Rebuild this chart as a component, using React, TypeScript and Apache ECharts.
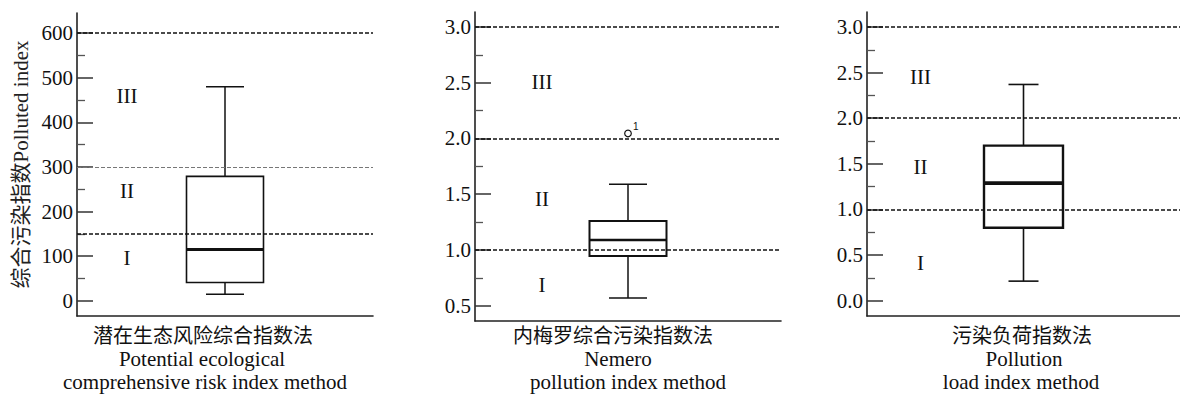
import React, { useEffect, useRef } from 'react';
import * as echarts from 'echarts';

// ---------- DATA ----------
const methodNamesZh = ['潜在生态风险综合指数法', '内梅罗综合污染指数法', '污染负荷指数法'];
const methodNamesEn1 = ['Potential ecological', 'Nemero', 'Pollution'];
const methodNamesEn2 = ['comprehensive risk index method', 'pollution index method', 'load index method'];
const yAxisTitle = '综合污染指数Polluted index';

// box statistics: [min, Q1, median, Q3, max]
const boxPotential = [15, 41, 115, 279, 480];
const boxNemero = [0.57, 0.945, 1.09, 1.26, 1.59];
const boxLoad = [0.215, 0.8, 1.29, 1.7, 2.37];

const outlierNemero = [2.045];
const outlierNemeroLabel = ['1'];

const thresholdsPotential = [150, 300, 600];
const thresholdsNemero = [1, 2, 3];
const thresholdsLoad = [1, 2, 3];

const gradeLabels = ['I', 'II', 'III'];
const gradeYPotential = [95, 245, 460];
const gradeYNemero = [0.69, 1.46, 2.51];
const gradeYLoad = [0.41, 1.47, 2.45];

const majorTicksPotential = [0, 100, 200, 300, 400, 500, 600];
const minorTicksPotential = [50, 150, 250, 350, 450, 550];
const majorTicksNemero = [0.5, 1.0, 1.5, 2.0, 2.5, 3.0];
const minorTicksNemero = [0.75, 1.25, 1.75, 2.25, 2.75];
const majorTicksLoad = [0, 0.5, 1.0, 1.5, 2.0, 2.5, 3.0];
const minorTicksLoad = [0.25, 0.75, 1.25, 1.75, 2.25, 2.75];

const yRangePotential = [-34, 645];
const yRangeNemero = [0.363, 3.134];
const yRangeLoad = [-0.167, 3.164];

// ---------- LAYOUT / STYLE ----------
const FONT = "'Liberation Serif', 'Noto Sans CJK SC', serif";
const INK = '#111';

const panels = [
  {
    box: boxPotential, thresholds: thresholdsPotential, thin: [false, true, false],
    gradeY: gradeYPotential, major: majorTicksPotential, minor: minorTicksPotential,
    range: yRangePotential, decimals: 0,
    grid: { left: 77, top: 13, width: 296, height: 303 },
    boxWidth: 77, capWidth: 38, boxLine: 1.6, medianLine: 3, whiskerLine: 1.5,
    gradeDx: -98, textX: [203, 202, 205],
  },
  {
    box: boxNemero, thresholds: thresholdsNemero, thin: [false, false, false],
    gradeY: gradeYNemero, major: majorTicksNemero, minor: minorTicksNemero,
    range: yRangeNemero, decimals: 1,
    grid: { left: 475, top: 12, width: 306, height: 309 },
    boxWidth: 77, capWidth: 38, boxLine: 2, medianLine: 2.6, whiskerLine: 1.5,
    gradeDx: -86, textX: [613, 618, 628],
  },
  {
    box: boxLoad, thresholds: thresholdsLoad, thin: [false, false, false],
    gradeY: gradeYLoad, major: majorTicksLoad, minor: minorTicksLoad,
    range: yRangeLoad, decimals: 1,
    grid: { left: 867, top: 12, width: 313, height: 304 },
    boxWidth: 79, capWidth: 30, boxLine: 2.4, medianLine: 3.8, whiskerLine: 1.6,
    gradeDx: -103, textX: [1022, 1024, 1021],
  },
];

function makeBoxRender(p: any) {
  return (params: any, api: any) => {
    const cat = api.value(0);
    const pts = [1, 2, 3, 4, 5].map((i) => api.coord([cat, api.value(i)]));
    const cx = pts[0][0];
    const hw = p.boxWidth / 2;
    const hc = p.capWidth / 2;
    const ln = (x1: number, y1: number, x2: number, y2: number, w: number) => ({
      type: 'line',
      shape: { x1, y1, x2, y2 },
      style: { stroke: INK, lineWidth: w, fill: 'none' },
    });
    return {
      type: 'group',
      children: [
        ln(cx, pts[4][1], cx, pts[3][1], p.whiskerLine),
        ln(cx, pts[0][1], cx, pts[1][1], p.whiskerLine),
        ln(cx - hc, pts[4][1], cx + hc, pts[4][1], p.whiskerLine),
        ln(cx - hc, pts[0][1], cx + hc, pts[0][1], p.whiskerLine),
        {
          type: 'rect',
          shape: { x: cx - hw, y: pts[3][1], width: hw * 2, height: pts[1][1] - pts[3][1] },
          style: { stroke: INK, lineWidth: p.boxLine, fill: 'none' },
        },
        ln(cx - hw, pts[2][1], cx + hw, pts[2][1], p.medianLine),
      ],
    };
  };
}

function makeGradeRender(p: any) {
  return (params: any, api: any) => {
    const c = api.coord([api.value(0), api.value(1)]);
    return {
      type: 'text',
      x: c[0] + p.gradeDx,
      y: c[1],
      style: {
        text: gradeLabels[params.dataIndex],
        fontFamily: FONT,
        fontSize: 21,
        fill: INK,
        align: 'center',
        verticalAlign: 'middle',
        textAlign: 'center',
        textVerticalAlign: 'middle',
      },
    };
  };
}

function makeOutlierRender() {
  return (params: any, api: any) => {
    const c = api.coord([api.value(0), api.value(1)]);
    return {
      type: 'group',
      children: [
        {
          type: 'circle',
          shape: { cx: c[0], cy: c[1], r: 3.3 },
          style: { stroke: INK, lineWidth: 1.2, fill: '#fff' },
        },
        {
          type: 'text',
          x: c[0] + 5,
          y: c[1] - 7,
          style: {
            text: outlierNemeroLabel[params.dataIndex],
            fontFamily: "'Liberation Sans', Arial, sans-serif",
            fontSize: 10,
            fill: INK,
            align: 'left',
            verticalAlign: 'middle',
            textAlign: 'left',
            textVerticalAlign: 'middle',
          },
        },
      ],
    };
  };
}

function buildOption() {
  const grid: any[] = [];
  const xAxis: any[] = [];
  const yAxis: any[] = [];
  const series: any[] = [];
  const graphic: any[] = [];

  panels.forEach((p, i) => {
    grid.push({ ...p.grid, containLabel: false });
    xAxis.push({
      type: 'category',
      gridIndex: i,
      data: [methodNamesZh[i]],
      boundaryGap: true,
      axisLine: { show: true, onZero: false, lineStyle: { color: '#222', width: 1.6 } },
      axisTick: { show: false },
      axisLabel: { show: false },
      splitLine: { show: false },
    });
    yAxis.push({
      type: 'value',
      gridIndex: i,
      position: 'left',
      min: p.range[0],
      max: p.range[1],
      axisLine: { show: true, onZero: false, lineStyle: { color: '#222', width: 1.6 } },
      axisTick: {
        show: true,
        inside: true,
        length: 16,
        customValues: p.major,
        lineStyle: { color: '#333', width: 1.5 },
      },
      axisLabel: {
        show: true,
        customValues: p.major,
        margin: 4,
        fontFamily: FONT,
        fontSize: 21,
        color: INK,
        formatter: (v: number) => v.toFixed(p.decimals),
      },
      splitLine: { show: false },
      ...(i === 0
        ? {
            name: yAxisTitle,
            nameLocation: 'middle',
            nameGap: 46,
            nameRotate: 90,
            nameTextStyle: { fontFamily: FONT, fontSize: 21, color: '#222' },
          }
        : {}),
    });
    yAxis.push({
      type: 'value',
      gridIndex: i,
      position: 'left',
      min: p.range[0],
      max: p.range[1],
      axisLine: { show: false },
      axisTick: {
        show: true,
        inside: true,
        length: 8,
        customValues: p.minor,
        lineStyle: { color: '#555', width: 1.3 },
      },
      axisLabel: { show: false },
      splitLine: { show: false },
    });

    const yIdx = i * 2;
    series.push({
      type: 'custom',
      xAxisIndex: i,
      yAxisIndex: yIdx,
      renderItem: makeGradeRender(p),
      encode: { x: 0, y: 1 },
      data: p.gradeY.map((v) => [0, v]),
      silent: true,
      z: 3,
      markLine: {
        silent: true,
        symbol: ['none', 'none'],
        label: { show: false },
        data: p.thresholds.map((v, k) => ({
          yAxis: v,
          lineStyle: p.thin[k]
            ? { color: '#777', width: 1, type: [4, 2] }
            : { color: '#111', width: 1.6, type: [4, 2] },
        })),
      },
    });
    series.push({
      type: 'custom',
      xAxisIndex: i,
      yAxisIndex: yIdx,
      renderItem: makeBoxRender(p),
      encode: { x: 0, y: [1, 2, 3, 4, 5] },
      data: [[0, ...p.box]],
      silent: true,
      z: 4,
    });

    const lines = [
      { t: methodNamesZh[i], y: 336, size: 20 },
      { t: methodNamesEn1[i], y: 359, size: 21 },
      { t: methodNamesEn2[i], y: 382, size: 21 },
    ];
    lines.forEach((l, k) => {
      graphic.push({
        type: 'text',
        x: p.textX[k],
        y: l.y,
        silent: true,
        style: {
          text: l.t,
          fontFamily: FONT,
          fontSize: l.size,
          fill: INK,
          align: 'center',
          verticalAlign: 'middle',
          textAlign: 'center',
          textVerticalAlign: 'middle',
        },
      });
    });
  });

  series.push({
    type: 'custom',
    xAxisIndex: 1,
    yAxisIndex: 2,
    renderItem: makeOutlierRender(),
    encode: { x: 0, y: 1 },
    data: outlierNemero.map((v) => [0, v]),
    silent: true,
    z: 5,
  });

  return {
    animation: false,
    backgroundColor: '#fff',
    grid,
    xAxis,
    yAxis,
    series,
    graphic,
  };
}

export default function App() {
  const ref = useRef<HTMLDivElement>(null);
  useEffect(() => {
    if (!ref.current) return;
    const chart = echarts.init(ref.current, undefined, { renderer: 'svg' });
    chart.setOption(buildOption() as any);
    return () => chart.dispose();
  }, []);
  return (
    <div
      ref={ref}
      style={{ position: 'fixed', left: 0, top: 0, width: 1180, height: 401, background: '#fff' }}
    />
  );
}
